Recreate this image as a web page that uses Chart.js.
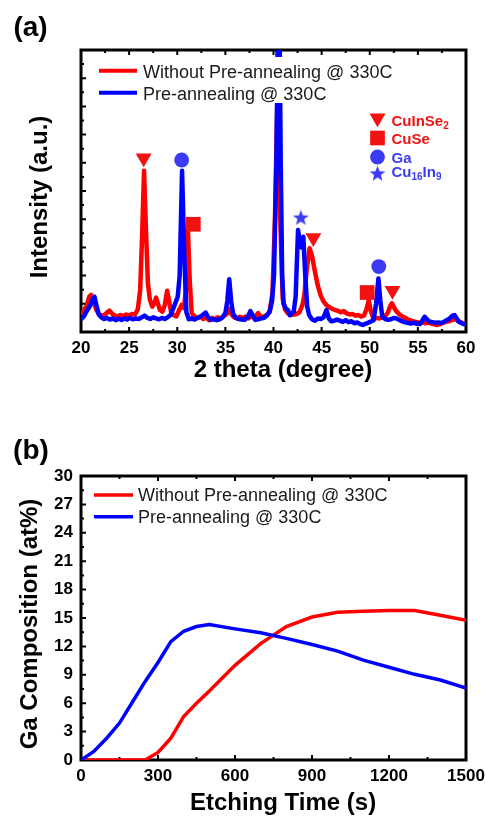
<!DOCTYPE html>
<html>
<head>
<meta charset="utf-8">
<script src="https://cdn.jsdelivr.net/npm/chart.js@4"></script>
<style>
  html, body { margin: 0; padding: 0; background: #fff; }
  #wrap { position: relative; width: 485px; height: 818px; }
  .panel { position: absolute; left: 0; }
  #panel-a { top: 0; }
  #panel-b { top: 400px; }
</style>
</head>
<body>
<div id="wrap">
  <div class="panel" id="panel-a"><canvas id="xrd" width="485" height="400"></canvas></div>
  <div class="panel" id="panel-b"><canvas id="depth" width="485" height="418"></canvas></div>
</div>
<script>
const FONT = "'Liberation Sans', Arial, Helvetica, sans-serif";
const RED = '#ff0000';
const BLUE = '#0000ff';
const MARK_RED = '#f31212';
const MARK_BLUE = '#3b3bf2';

const seriesNames = ['Without Pre-annealing @ 330C', 'Pre-annealing @ 330C'];

// (a) XRD scans, [2theta, counts]
const xrdWithout = [
  [20.0, 60], [20.3, 75], [20.6, 95], [20.85, 125], [21.05, 132], [21.3, 110], [21.6, 78], [21.9, 62],
  [22.2, 58], [22.5, 62], [22.75, 70], [22.95, 76], [23.2, 66], [23.5, 58], [23.8, 55], [24.1, 60],
  [24.4, 56], [24.7, 62], [25.0, 58], [25.3, 64], [25.6, 62], [25.9, 80], [26.15, 150], [26.35, 340],
  [26.55, 572], [26.75, 360], [26.95, 175], [27.15, 115], [27.4, 90], [27.6, 100], [27.8, 122], [28.0, 100],
  [28.2, 78], [28.45, 72], [28.7, 95], [28.95, 146], [29.15, 110], [29.35, 72], [29.6, 60], [29.9, 55],
  [30.2, 78], [30.45, 96], [30.7, 85], [30.9, 150], [31.1, 369], [31.3, 180], [31.5, 67], [31.8, 55],
  [32.1, 50], [32.4, 54], [32.7, 46], [33.0, 52], [33.3, 42], [33.6, 50], [33.9, 44], [34.2, 52],
  [34.5, 48], [34.8, 55], [35.1, 62], [35.35, 82], [35.6, 64], [35.9, 52], [36.2, 48], [36.5, 54],
  [36.8, 50], [37.1, 55], [37.4, 48], [37.7, 58], [38.0, 50], [38.4, 67], [38.7, 52], [39.0, 55],
  [39.3, 60], [39.6, 72], [39.9, 140], [40.15, 400], [40.45, 900], [40.7, 400], [40.95, 120], [41.2, 80],
  [41.5, 66], [41.8, 60], [42.1, 62], [42.4, 64], [42.7, 70], [43.0, 95], [43.2, 130], [43.45, 220],
  [43.75, 297], [44.0, 270], [44.3, 215], [44.6, 165], [44.9, 130], [45.2, 108], [45.5, 96], [45.8, 88],
  [46.1, 82], [46.4, 78], [46.7, 75], [47.0, 70], [47.3, 74], [47.6, 66], [47.9, 62], [48.2, 64],
  [48.5, 58], [48.8, 60], [49.1, 55], [49.4, 58], [49.65, 80], [49.9, 113], [50.1, 75], [50.4, 45],
  [50.7, 50], [51.0, 48], [51.3, 52], [51.6, 56], [51.9, 70], [52.1, 90], [52.3, 102], [52.55, 85],
  [52.8, 72], [53.1, 62], [53.4, 55], [53.7, 50], [54.0, 44], [54.3, 40], [54.6, 37], [54.9, 35],
  [55.2, 32], [55.5, 34], [55.8, 31], [56.1, 34], [56.4, 30], [56.7, 27], [57.0, 25], [57.3, 28],
  [57.6, 32], [57.9, 36], [58.2, 38], [58.5, 42], [58.8, 45], [59.1, 42], [59.4, 36], [59.7, 30],
  [60.0, 25]
];
const xrdPre = [
  [20.0, 45], [20.3, 55], [20.55, 72], [20.8, 85], [21.05, 100], [21.25, 120], [21.4, 125], [21.6, 95],
  [21.85, 62], [22.1, 52], [22.4, 46], [22.7, 50], [23.0, 44], [23.3, 48], [23.6, 42], [23.9, 47],
  [24.2, 43], [24.5, 48], [24.8, 44], [25.1, 50], [25.4, 45], [25.7, 48], [26.0, 46], [26.3, 52],
  [26.6, 58], [26.9, 50], [27.2, 46], [27.5, 52], [27.8, 48], [28.1, 45], [28.4, 50], [28.7, 46],
  [29.0, 52], [29.3, 60], [29.6, 85], [29.85, 107], [30.05, 125], [30.25, 200], [30.5, 572], [30.75, 250],
  [30.95, 70], [31.2, 45], [31.5, 48], [31.8, 44], [32.1, 50], [32.4, 55], [32.7, 62], [32.95, 69],
  [33.2, 52], [33.5, 43], [33.8, 46], [34.1, 42], [34.4, 45], [34.7, 52], [35.0, 67], [35.2, 110],
  [35.4, 187], [35.6, 110], [35.8, 64], [36.1, 50], [36.4, 46], [36.7, 44], [37.0, 43], [37.3, 52],
  [37.6, 74], [37.85, 58], [38.1, 43], [38.4, 45], [38.7, 48], [39.0, 50], [39.3, 58], [39.6, 72],
  [39.85, 110], [40.05, 200], [40.3, 600], [40.55, 1400], [40.75, 600], [40.9, 200], [41.05, 100], [41.3, 82],
  [41.5, 78], [41.7, 60], [41.9, 66], [42.1, 72], [42.3, 125], [42.55, 362], [42.8, 305], [42.9, 300],
  [43.1, 338], [43.3, 200], [43.5, 90], [43.7, 60], [44.0, 45], [44.3, 40], [44.6, 48], [44.9, 46],
  [45.2, 52], [45.5, 78], [45.75, 48], [46.0, 38], [46.3, 40], [46.6, 44], [46.9, 40], [47.2, 36],
  [47.5, 42], [47.8, 35], [48.1, 38], [48.4, 31], [48.7, 34], [49.0, 28], [49.3, 25], [49.6, 30],
  [49.9, 34], [50.1, 37], [50.4, 42], [50.65, 100], [50.9, 190], [51.1, 110], [51.3, 54], [51.6, 46],
  [51.9, 43], [52.2, 45], [52.5, 50], [52.8, 48], [53.1, 42], [53.4, 38], [53.7, 34], [54.0, 32],
  [54.3, 30], [54.6, 33], [54.9, 29], [55.2, 28], [55.45, 40], [55.7, 54], [55.95, 45], [56.2, 37],
  [56.5, 35], [56.8, 33], [57.1, 34], [57.4, 32], [57.7, 36], [58.0, 42], [58.3, 48], [58.6, 58],
  [58.8, 60], [59.0, 50], [59.2, 37], [59.5, 32], [59.8, 28], [60.0, 27]
];

// phase markers above the peaks
const cuInSe2Peaks = [[26.51, 617], [44.14, 334], [52.36, 147]];
const cuSePeaks = [[31.67, 382], [49.73, 140]];
const gaPeaks = [[30.46, 610], [50.94, 232]];
const cu16In9Peaks = [[42.84, 404]];

// (b) Ga depth profile
const etchTime = [0, 50, 100, 150, 200, 250, 300, 350, 400, 450, 500, 600, 700, 800, 900, 1000, 1100, 1200, 1300, 1400, 1500];
const gaWithout = [0, 0, 0, 0, 0, 0, 0.8, 2.3, 4.6, 6.0, 7.3, 10.0, 12.3, 14.1, 15.1, 15.6, 15.7, 15.8, 15.8, 15.3, 14.75];
const gaPre = [0, 0.9, 2.3, 3.9, 6.1, 8.3, 10.3, 12.5, 13.6, 14.1, 14.3, 13.85, 13.45, 12.85, 12.2, 11.5, 10.55, 9.8, 9.05, 8.45, 7.6];

const toXY = pairs => pairs.map(([x, y]) => ({ x, y }));

function makeStar(r, color) {
  const c = document.createElement('canvas');
  const s = Math.ceil(r * 2) + 2;
  c.width = s; c.height = s;
  const g = c.getContext('2d');
  g.fillStyle = color;
  g.beginPath();
  for (let i = 0; i < 10; i++) {
    const rad = i % 2 === 0 ? r : r * 0.42;
    const ang = -Math.PI / 2 + i * Math.PI / 5;
    const px = s / 2 + rad * Math.cos(ang), py = s / 2 + rad * Math.sin(ang);
    if (i === 0) g.moveTo(px, py); else g.lineTo(px, py);
  }
  g.closePath();
  g.fill();
  return c;
}
const starImg = makeStar(8.3, MARK_BLUE);

// frame box + inward tick marks
function frameTicks(major, minor) {
  return {
    id: 'frameTicks',
    beforeDatasetsDraw(chart) {
      const { ctx, chartArea: a } = chart;
      const xs = chart.scales.x, ys = chart.scales.y;
      const vals = s => s.ticks.map(t => t.value);
      const mids = v => v.slice(1).map((t, i) => (t + v[i]) / 2);
      ctx.save();
      ctx.strokeStyle = '#000';
      ctx.lineWidth = 2;
      ctx.beginPath();
      const xMaj = vals(xs), yMaj = vals(ys);
      const xTick = (v, len) => {
        const p = xs.getPixelForValue(v);
        ctx.moveTo(p, a.bottom); ctx.lineTo(p, a.bottom - len);
        ctx.moveTo(p, a.top); ctx.lineTo(p, a.top + len);
      };
      const yTick = (v, len) => {
        const p = ys.getPixelForValue(v);
        ctx.moveTo(a.left, p); ctx.lineTo(a.left + len, p);
      };
      xMaj.forEach(v => xTick(v, major));
      mids(xMaj).forEach(v => xTick(v, minor));
      yMaj.forEach(v => yTick(v, major));
      mids(yMaj).forEach(v => yTick(v, minor));
      ctx.stroke();
      ctx.lineWidth = 3;
      ctx.strokeRect(a.left, a.top, a.right - a.left, a.bottom - a.top);
      ctx.restore();
    }
  };
}

function drawTitle(ctx, text, x, y, size, rotate) {
  ctx.save();
  ctx.translate(x, y);
  if (rotate) ctx.rotate(-Math.PI / 2);
  ctx.font = `bold ${size}px ${FONT}`;
  ctx.fillStyle = '#000';
  ctx.textAlign = 'center';
  ctx.textBaseline = 'middle';
  ctx.fillText(text, 0, 0);
  ctx.restore();
}

function drawSeriesLegend(ctx, x0, x1, textX, rows, lineWidth) {
  ctx.save();
  ctx.font = `18px ${FONT}`;
  ctx.fillStyle = '#1a1a1a';
  ctx.textBaseline = 'alphabetic';
  rows.forEach(r => {
    ctx.strokeStyle = r.color;
    ctx.lineWidth = lineWidth;
    ctx.beginPath();
    ctx.moveTo(x0, r.lineY);
    ctx.lineTo(x1, r.lineY);
    ctx.stroke();
    ctx.fillText(r.label, textX, r.textY);
  });
  ctx.restore();
}

// text runs with subscripts, e.g. Cu16In9
function drawRich(ctx, parts, x, y, color) {
  ctx.save();
  ctx.fillStyle = color;
  ctx.textBaseline = 'alphabetic';
  parts.forEach(p => {
    ctx.font = p.sub ? `bold 10px ${FONT}` : `bold 15px ${FONT}`;
    ctx.fillText(p.t, x, p.sub ? y + 3 : y);
    x += ctx.measureText(p.t).width;
  });
  ctx.restore();
}

const phaseLegend = [
  { style: 'triangle', rotation: 180, radius: 9.2, color: MARK_RED, y: 118, parts: [{ t: 'CuInSe' }, { t: '2', sub: true }] },
  { style: 'rect', rotation: 0, radius: 10.4, color: MARK_RED, y: 138, parts: [{ t: 'CuSe' }] },
  { style: 'circle', rotation: 0, radius: 7.4, color: MARK_BLUE, y: 157, parts: [{ t: 'Ga' }] },
  { style: starImg, rotation: 0, radius: 8, color: MARK_BLUE, y: 174, parts: [{ t: 'Cu' }, { t: '16', sub: true }, { t: 'In' }, { t: '9', sub: true }] }
];
const phaseBaselines = [125.5, 143.5, 163, 177];

const xrdDecor = {
  id: 'xrdDecor',
  afterDatasetsDraw(chart) {
    const { ctx } = chart;
    ctx.save();
    ctx.fillStyle = '#fff';
    ctx.fillRect(95, 57, 300, 46);
    ctx.restore();
    drawSeriesLegend(ctx, 99, 137, 143, [
      { color: RED, label: seriesNames[0], lineY: 70.7, textY: 77.5 },
      { color: BLUE, label: seriesNames[1], lineY: 92.7, textY: 99.5 }
    ], 4);
    phaseLegend.forEach((m, i) => {
      ctx.save();
      ctx.fillStyle = m.color;
      Chart.helpers.drawPoint(ctx, { pointStyle: m.style, rotation: m.rotation, radius: m.radius, borderWidth: 0 }, 377.5, m.y);
      ctx.restore();
      drawRich(ctx, m.parts, 391.5, phaseBaselines[i], m.color);
    });
    drawTitle(ctx, '(a)', 30.5, 28.5, 28, false);
    drawTitle(ctx, 'Intensity (a.u.)', 40.5, 197, 24, true);
    drawTitle(ctx, '2 theta (degree)', 283, 370, 24, false);
  }
};

const depthDecor = {
  id: 'depthDecor',
  afterDatasetsDraw(chart) {
    const { ctx } = chart;
    drawSeriesLegend(ctx, 94, 133, 138, [
      { color: RED, label: seriesNames[0], lineY: 95, textY: 100.7 },
      { color: BLUE, label: seriesNames[1], lineY: 116.7, textY: 122.7 }
    ], 3.5);
    drawTitle(ctx, '(b)', 31, 51, 28, false);
    drawTitle(ctx, 'Ga Composition (at%)', 30, 224, 24, true);
    drawTitle(ctx, 'Etching Time (s)', 283, 403, 24, false);
  }
};

const tickFont = { family: FONT, size: 17, weight: 'bold' };
const plainNumber = v => String(v);

// let the end labels hang past the frame instead of shrinking the plot
function fixHeight(h) {
  return s => { s.height = h; s.paddingLeft = 0; s.paddingRight = 0; };
}

function markers(pairs, style, radius, color, rotation) {
  return {
    data: toXY(pairs),
    showLine: false,
    pointStyle: style,
    pointRotation: rotation || 0,
    pointRadius: radius,
    pointBackgroundColor: color,
    pointBorderWidth: 0,
    order: 0
  };
}

new Chart(document.getElementById('xrd'), {
  type: 'line',
  data: {
    datasets: [
      { label: seriesNames[0], data: toXY(xrdWithout), borderColor: RED, borderWidth: 4.5, pointRadius: 0, tension: 0, borderJoinStyle: 'round', order: 2 },
      { label: seriesNames[1], data: toXY(xrdPre), borderColor: BLUE, borderWidth: 4.5, pointRadius: 0, tension: 0, borderJoinStyle: 'round', order: 1 },
      markers(cuInSe2Peaks, 'triangle', 9.2, MARK_RED, 180),
      markers(cuSePeaks, 'rect', 10.4, MARK_RED),
      markers(gaPeaks, 'circle', 7.4, MARK_BLUE),
      markers(cu16In9Peaks, starImg, 8, MARK_BLUE)
    ]
  },
  options: {
    responsive: false,
    animation: false,
    layout: { padding: { left: 81, right: 19, top: 50, bottom: 0 } },
    plugins: { legend: { display: false }, tooltip: { enabled: false } },
    scales: {
      x: {
        type: 'linear', min: 20, max: 60,
        ticks: { stepSize: 5, font: tickFont, color: '#000', padding: 6, maxRotation: 0, callback: plainNumber },
        grid: { display: false, drawTicks: false },
        border: { display: false },
        afterFit: fixHeight(68)
      },
      y: {
        type: 'linear', min: 0, max: 1000,
        ticks: { stepSize: 100, display: false },
        grid: { display: false, drawTicks: false },
        border: { display: false },
        afterFit(s) { s.width = 0; }
      }
    }
  },
  plugins: [frameTicks(5, 3), xrdDecor]
});

new Chart(document.getElementById('depth'), {
  type: 'line',
  data: {
    datasets: [
      { label: seriesNames[0], data: etchTime.map((t, i) => ({ x: t, y: gaWithout[i] })), borderColor: RED, borderWidth: 3.5, pointRadius: 0, tension: 0, order: 2 },
      { label: seriesNames[1], data: etchTime.map((t, i) => ({ x: t, y: gaPre[i] })), borderColor: BLUE, borderWidth: 3.5, pointRadius: 0, tension: 0, order: 1 }
    ]
  },
  options: {
    responsive: false,
    animation: false,
    layout: { padding: { left: 0, right: 19, top: 76, bottom: 0 } },
    plugins: { legend: { display: false }, tooltip: { enabled: false } },
    scales: {
      x: {
        type: 'linear', min: 0, max: 1500,
        ticks: { stepSize: 300, font: tickFont, color: '#000', padding: 6, maxRotation: 0, callback: plainNumber },
        grid: { display: false, drawTicks: false },
        border: { display: false },
        afterFit: fixHeight(58)
      },
      y: {
        type: 'linear', min: 0, max: 30,
        ticks: { stepSize: 3, font: tickFont, color: '#000', padding: 8, callback: plainNumber },
        grid: { display: false, drawTicks: false },
        border: { display: false },
        afterFit(s) { s.width = 81; }
      }
    }
  },
  plugins: [frameTicks(5, 3), depthDecor]
});
</script>
</body>
</html>
